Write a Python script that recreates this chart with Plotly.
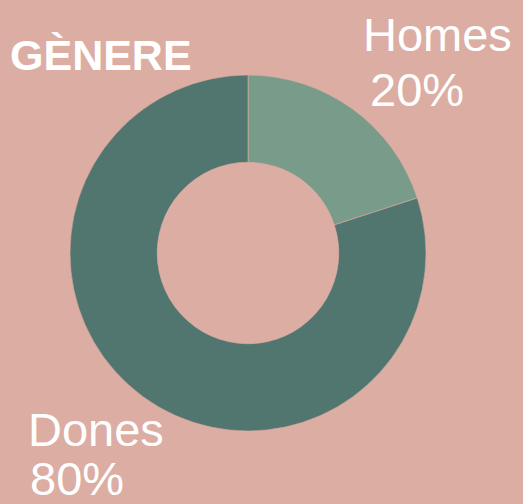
import plotly.graph_objects as go

labels = ["Homes", "Dones"]
values = [20, 80]
colors = ["#799B89", "#51756F"]
title = "GÈNERE"

BG = "#DCADA3"
W, H = 523, 504

fig = go.Figure(go.Pie(
    labels=labels, values=values, hole=0.51, sort=False,
    direction="clockwise", rotation=0,
    marker=dict(colors=colors, line=dict(color=BG, width=0.6)),
    textinfo="none", hoverinfo="label+percent",
    domain=dict(x=[70/W, 426/W], y=[1-431/H, 1-75/H]),
))

def px_ann(text, x, y, size, bold=False):
    # x,y = top-left of the text box in pixels
    fig.add_annotation(text=f"<b>{text}</b>" if bold else text,
                       xref="paper", yref="paper", x=x/W, y=1-y/H,
                       xanchor="left", yanchor="top", showarrow=False,
                       font=dict(family="Liberation Sans, Arial", size=size, color="white"))

px_ann(title, 8, 29, 43, bold=True)
pos = {"Homes": [(361, 6), (368, 61)], "Dones": [(26, 401), (28, 450)]}
tot = sum(values)
for lab, v in zip(labels, values):
    (x1, y1), (x2, y2) = pos[lab]
    px_ann(lab, x1, y1, 47)
    px_ann(f"{round(100*v/tot)}%", x2, y2, 47)

fig.update_layout(width=W, height=H, margin=dict(l=0, r=0, t=0, b=0),
                  paper_bgcolor=BG, plot_bgcolor=BG, showlegend=False)
fig.write_html("out.html", config={"displayModeBar": False},
               post_script="document.body.style.margin='0';")
